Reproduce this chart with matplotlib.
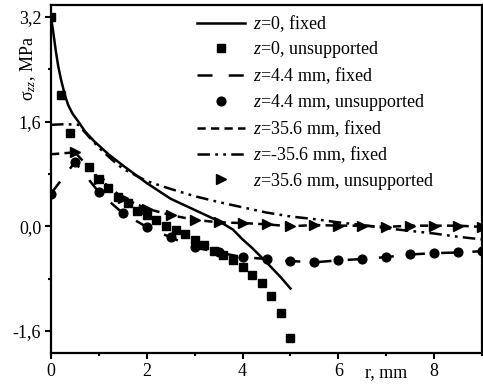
import matplotlib
matplotlib.use("Agg")
import matplotlib.pyplot as plt
from matplotlib.ticker import FixedLocator, FuncFormatter

plt.rcParams['font.family'] = ['Liberation Serif', 'DejaVu Serif']
plt.rcParams['mathtext.fontset'] = 'custom'
plt.rcParams['mathtext.rm'] = 'Liberation Serif'
plt.rcParams['mathtext.it'] = 'Liberation Serif:italic'

# z=0, fixed (solid)
r_z0_fixed = [0, 0.05, 0.1, 0.15, 0.2, 0.25, 0.3, 0.36, 0.45, 0.57, 0.71, 0.9, 1.2, 1.5,
              2.0, 2.5, 3.0, 3.5, 3.8, 4.0, 4.2, 4.5, 4.8, 5.0]
s_z0_fixed = [3.2, 2.95, 2.68, 2.45, 2.27, 2.12, 1.98, 1.85, 1.72, 1.6, 1.45, 1.3, 1.1, 0.93,
              0.66, 0.42, 0.25, 0.08, -0.05, -0.2, -0.33, -0.55, -0.78, -0.95]

# z=0, unsupported (squares)
r_z0_unsup = [0, 0.2, 0.4, 0.8, 1.0, 1.2, 1.4, 1.6, 1.8, 2.0, 2.2, 2.4, 2.6, 2.8, 3.0,
              3.2, 3.4, 3.6, 3.8, 4.0, 4.2, 4.4, 4.6, 4.8, 5.0]
s_z0_unsup = [3.2, 2.0, 1.43, 0.9, 0.73, 0.58, 0.44, 0.35, 0.24, 0.17, 0.09, 0.0, -0.06,
              -0.12, -0.21, -0.29, -0.38, -0.44, -0.52, -0.62, -0.75, -0.87, -1.07, -1.33, -1.7]

# z=4.4 mm, fixed (long dash)
r_z44_fixed = [0, 0.5, 1.0, 1.5, 2.0, 2.5, 3.0, 3.5, 4.0, 4.5, 5.0, 5.5, 6.0, 6.5, 7.0,
               7.5, 8.0, 8.5, 9.0]
s_z44_fixed = [0.5, 0.98, 0.52, 0.2, -0.01, -0.17, -0.32, -0.4, -0.47, -0.5, -0.53, -0.55,
               -0.52, -0.5, -0.47, -0.43, -0.41, -0.4, -0.38]

# z=4.4 mm, unsupported (circles)
r_z44_unsup = [0, 0.5, 1.0, 1.5, 2.0, 2.5, 3.0, 3.5, 4.0, 4.5, 5.0, 5.5, 6.0, 6.5, 7.0,
               7.5, 8.0, 8.5, 9.0]
s_z44_unsup = [0.5, 0.98, 0.52, 0.2, -0.01, -0.17, -0.32, -0.4, -0.47, -0.5, -0.53, -0.55,
               -0.52, -0.5, -0.47, -0.43, -0.41, -0.4, -0.38]

# z=35.6 mm, fixed (short dash)
r_z356_fixed = [0, 0.5, 1.0, 1.5, 2.0, 2.5, 3.0, 3.5, 4.0, 4.5, 5.0, 5.5, 6.0, 6.5, 7.0,
                7.5, 8.0, 8.5, 9.0]
s_z356_fixed = [1.1, 1.13, 0.73, 0.43, 0.27, 0.17, 0.1, 0.06, 0.05, 0.03, 0.0, 0.02, 0.01,
                0.01, -0.01, 0.01, 0.01, 0.01, -0.01]

# z=-35.6 mm, fixed (dash-dot-dot)
r_zm356_fixed = [0, 0.3, 0.57, 0.8, 1.0, 1.3, 1.5, 2.0, 2.5, 3.0, 3.5, 4.0, 4.5, 5.0, 5.5,
                 6.0, 6.5, 7.0, 7.5, 8.0, 8.5, 9.0]
s_zm356_fixed = [1.55, 1.56, 1.55, 1.36, 1.2, 1.0, 0.88, 0.69, 0.57, 0.46, 0.37, 0.29, 0.21,
                 0.15, 0.11, 0.06, 0.02, -0.03, -0.07, -0.11, -0.16, -0.2]

# z=35.6 mm, unsupported (triangles)
r_z356_unsup = [0.5, 1.0, 1.5, 2.0, 2.5, 3.0, 3.5, 4.0, 4.5, 5.0, 5.5, 6.0, 6.5, 7.0,
                7.5, 8.0, 8.5, 9.0]
s_z356_unsup = [1.13, 0.73, 0.43, 0.27, 0.17, 0.1, 0.06, 0.05, 0.03, 0.0, 0.02, 0.01,
                0.01, -0.01, 0.01, 0.01, 0.01, -0.01]

labels = ['$z$=0, fixed', '$z$=0, unsupported', '$z$=4.4 mm, fixed',
          '$z$=4.4 mm, unsupported', '$z$=35.6 mm, fixed', '$z$=-35.6 mm, fixed',
          '$z$=35.6 mm, unsupported']

x_major = [0, 2, 4, 6, 8]
x_minor = [1, 3, 5, 7, 9]
y_major = [-1.6, 0.0, 1.6, 3.2]
y_minor = [-0.8, 0.8, 2.4]

fig = plt.figure(figsize=(4.83, 3.87), dpi=100)
ax = fig.add_axes([51/483, 34/387, 431/483, 348/387])

lw = 1.8
ax.plot(r_z0_fixed, s_z0_fixed, color='black', lw=lw, label=labels[0])
ax.plot(r_z0_unsup, s_z0_unsup, 's', color='black', ms=5.8, ls='none', label=labels[1])
ax.plot(r_z44_fixed, s_z44_fixed, color='black', lw=lw, ls=(0, (6, 6.5)), label=labels[2])
ax.plot(r_z44_unsup, s_z44_unsup, 'o', color='black', ms=6.3, ls='none', label=labels[3])
ax.plot(r_z356_fixed, s_z356_fixed, color='black', lw=lw, ls=(0, (3.3, 2.1)), label=labels[4])
ax.plot(r_zm356_fixed, s_zm356_fixed, color='black', lw=lw,
        ls=(0, (5, 2.1, 1.1, 2.1, 1.1, 2.1)), label=labels[5])
ax.plot(r_z356_unsup, s_z356_unsup, '>', color='black', ms=7, ls='none', label=labels[6])

ax.set_xlim(0, 9)
ax.set_ylim(-1.935, 3.38)

ax.xaxis.set_major_locator(FixedLocator(x_major))
ax.xaxis.set_minor_locator(FixedLocator(x_minor))
ax.yaxis.set_major_locator(FixedLocator(y_major))
ax.yaxis.set_minor_locator(FixedLocator(y_minor))
ax.xaxis.set_major_formatter(FuncFormatter(lambda v, p: f"{v:g}"))
ax.yaxis.set_major_formatter(FuncFormatter(lambda v, p: f"{v:.1f}".replace('.', ',')))

ax.tick_params(which='both', direction='out', top=False, right=False, width=1.5,
               labelsize=13, pad=3)
ax.tick_params(which='major', length=4)
ax.tick_params(which='minor', length=2.5)
for s in ax.spines.values():
    s.set_linewidth(1.6)

ax.set_ylabel('σ$_{zz}$, MPa', fontsize=13)
ax.yaxis.set_label_coords(-0.052, 0.816)
ax.yaxis.label.set_verticalalignment('center')
ax.set_xlabel('r, mm', fontsize=13)
ax.xaxis.set_label_coords(0.777, -0.057)
ax.xaxis.label.set_verticalalignment('center')

leg = ax.legend(loc='upper left', bbox_to_anchor=(0.339, 0.977), frameon=False,
                fontsize=13, handlelength=2.67, handletextpad=0.4, labelspacing=0.3,
                borderpad=0, borderaxespad=0, numpoints=1)

fig.savefig('out.png', dpi=100)
